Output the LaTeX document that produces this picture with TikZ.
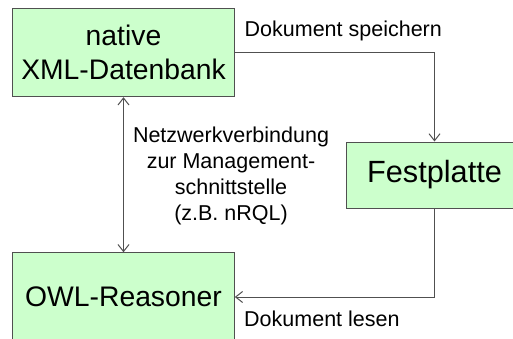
\documentclass[tikz,border=0pt]{standalone}
\usepackage{fontspec}
\setmainfont{Liberation Sans}
\usetikzlibrary{arrows.meta}
\definecolor{boxfill}{RGB}{204,255,204}
\definecolor{linegray}{RGB}{80,80,80}

\begin{document}
\begin{tikzpicture}[x=1pt, y=1pt,
    box/.style={draw=linegray, fill=boxfill, line width=1pt, inner sep=0pt,
      align=center, font=\fontsize{28.3}{34}\selectfont},
    lbl/.style={inner sep=0pt, align=center, font=\fontsize{21.5}{25.8}\selectfont},
    conn/.style={draw=linegray, line width=1pt, -{Straight Barb[length=7pt,width=11pt]}}]
  \clip (0, 0) rectangle (513, 338);

  \node[box, minimum width=221.6, minimum height=88.4] (xml) at (123.5, 285.5) {native\\XML-Datenbank};
  \node[box, minimum width=176, minimum height=66, font=\fontsize{30.7}{34}\selectfont] (disk) at (434.5, 163) {Festplatte};
  \node[box, minimum width=221.6, minimum height=88.4] (owl) at (123.5, 41) {OWL-Reasoner};

  \node[lbl, anchor=base west] (save) at (244.5, 301.3) {Dokument speichern};
  \node[lbl, anchor=base west] (read) at (244, 12) {Dokument lesen};
  \node[lbl] (net) at (231, 162) {Netzwerkverbindung\\zur Management-\\schnittstelle\\(z.B. nRQL)};

	\draw[conn] (xml.east) -| (disk.north);
	\draw[conn] (disk.south) |- (owl.east);
	\draw[conn, {Straight Barb[length=7pt,width=11pt]}-{Straight Barb[length=7pt,width=11pt]}] (xml.south) -- (owl.north);

\end{tikzpicture}
\end{document}
